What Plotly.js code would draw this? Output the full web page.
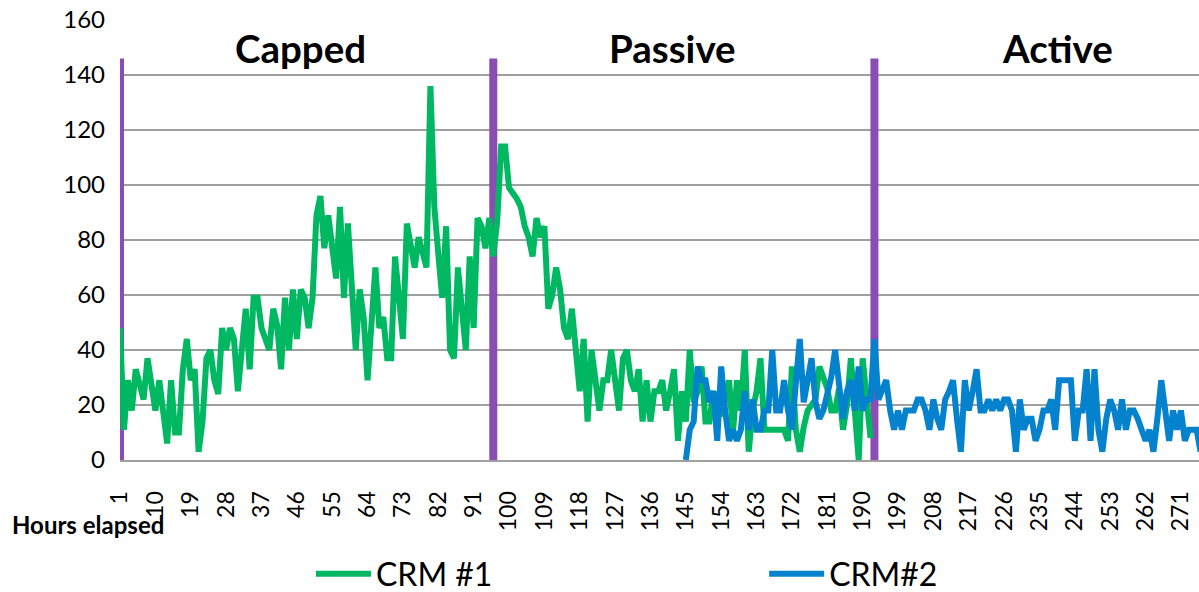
<!DOCTYPE html>
<html>
<head>
<meta charset="utf-8">
<script src="https://cdn.plot.ly/plotly-3.0.1.min.js"></script>
<style>html,body{margin:0;padding:0;background:#fff;}#chart{width:1199px;height:592px;}</style>
</head>
<body>
<div id="chart"></div>
<script>
// Hourly readings, CRM #1 starts at hour 1
const crm1Start = 1;
const crm1 = [48,11,29,18,33,28,22,37,27,18,29,18,6,29,10,10,33,44,29,33,
  3,14,37,40,29,24,48,40,48,44,25,40,55,33,59,59,48,44,40,55,
  49,33,59,40,62,44,62,59,48,59,89,96,77,89,77,66,92,59,86,62,
  40,62,52,29,50,70,48,52,37,37,74,59,44,86,78,70,81,75,70,136,
  92,75,59,85,40,37,70,55,40,74,48,88,85,77,88,74,87,114,114,99,
  97,95,92,85,81,74,88,81,85,55,60,70,62,48,44,55,40,25,44,14,
  40,29,18,29,29,40,29,18,37,40,29,25,33,14,29,14,25,25,29,18,
  25,33,7,25,14,40,21,25,34,14,14,25,20,16,22,29,10,29,18,40,
  3,18,25,37,11,11,11,11,11,11,7,34,11,3,12,18,20,22,34,30,
  26,18,18,26,11,20,37,18,0,37,21,8];
// CRM#2 starts at hour 145
const crm2Start = 145;
const crm2 = [0,11,14,34,29,29,21,25,7,34,18,7,11,7,11,25,11,22,11,11,
  18,18,40,18,18,29,18,11,28,44,21,29,37,21,15,18,25,30,40,27,
  15,25,29,18,34,18,22,22,44,22,25,29,18,11,18,11,18,18,18,22,
  22,18,11,22,15,11,22,25,29,15,3,29,18,25,33,18,18,22,18,22,
  18,22,22,18,3,22,11,15,15,7,11,18,18,22,11,29,29,29,29,7,
  18,18,33,7,33,11,3,15,22,18,11,22,11,18,18,15,11,7,11,3,
  15,29,18,7,18,11,18,7,11,11,11,3];
const phaseNames = ["Capped","Passive","Active"];
const phaseStartHours = [1, 96, 193];
const phaseLabelHours = [47, 141.5, 239.5];
const phaseMarkerTop = 146;
const xTicks = [1,10,19,28,37,46,55,64,73,82,91,100,109,118,127,136,145,154,163,172,181,190,199,208,217,226,235,244,253,262,271];
const yTicks = [0,20,40,60,80,100,120,140,160];

const hours = (start, arr) => arr.map((_, i) => start + i);

const traces = [];
phaseStartHours.forEach(h => {
  traces.push({x:[h,h], y:[-1,phaseMarkerTop], mode:'lines', showlegend:false, hoverinfo:'skip',
    line:{color:'#8B4DB3', width:8}, cliponaxis:false});
});
traces.push({name:'CRM #1', x:hours(crm1Start, crm1), y:crm1, mode:'lines',
  line:{color:'#00B862', width:6, shape:'linear'}, legend:'legend'});
traces.push({name:'CRM#2', x:hours(crm2Start, crm2), y:crm2, mode:'lines',
  line:{color:'#0482CE', width:6, shape:'linear'}, legend:'legend2'});
const font = "Lato, 'Open Sans', sans-serif";
const legendBase = {orientation:'h', xanchor:'left', y:-0.259, yanchor:'middle',
    font:{size:32, family:font}, itemwidth:55, bgcolor:'rgba(0,0,0,0)'};
const layout = {
  width:1199, height:592,
  margin:{l:120, r:0, t:20, b:132, autoexpand:false},
  paper_bgcolor:'#fff', plot_bgcolor:'#fff',
  font:{family:font, color:'#000'},
  xaxis:{range:[1,275.6], tickmode:'array', tickvals:xTicks, ticktext:xTicks.map(String),
    tickangle:-90, tickfont:{size:23, family:font}, showgrid:false, zeroline:false, automargin:false,
    showline:true, linecolor:'#A0A0A0', linewidth:2, ticks:'', ticklabelstandoff:20},
  yaxis:{range:[0,160], tickmode:'array', tickvals:yTicks, showgrid:true, gridcolor:'#A0A0A0',
    gridwidth:2, zeroline:false, showline:false, ticks:'', tickfont:{size:24, family:font},
    ticklabelstandoff:14, automargin:false},
  showlegend:true,
  legend:Object.assign({}, legendBase, {x:0.177}),
  legend2:Object.assign({}, legendBase, {x:0.597}),
  annotations: phaseNames.map((n,i) => ({x:phaseLabelHours[i], y:150, xref:'x', yref:'y',
    text:'<b>'+n+'</b>', showarrow:false, font:{size:38.5, family:font, color:'#000'}}))
    .concat([{xref:'paper', yref:'paper', x:-0.102, y:-0.146, xanchor:'left', yanchor:'middle',
      text:'<b>Hours elapsed</b>', showarrow:false, font:{size:24, family:font, color:'#000'}}])
};
Plotly.newPlot('chart', traces, layout, {displayModeBar:false, staticPlot:true});
</script>
</body>
</html>
